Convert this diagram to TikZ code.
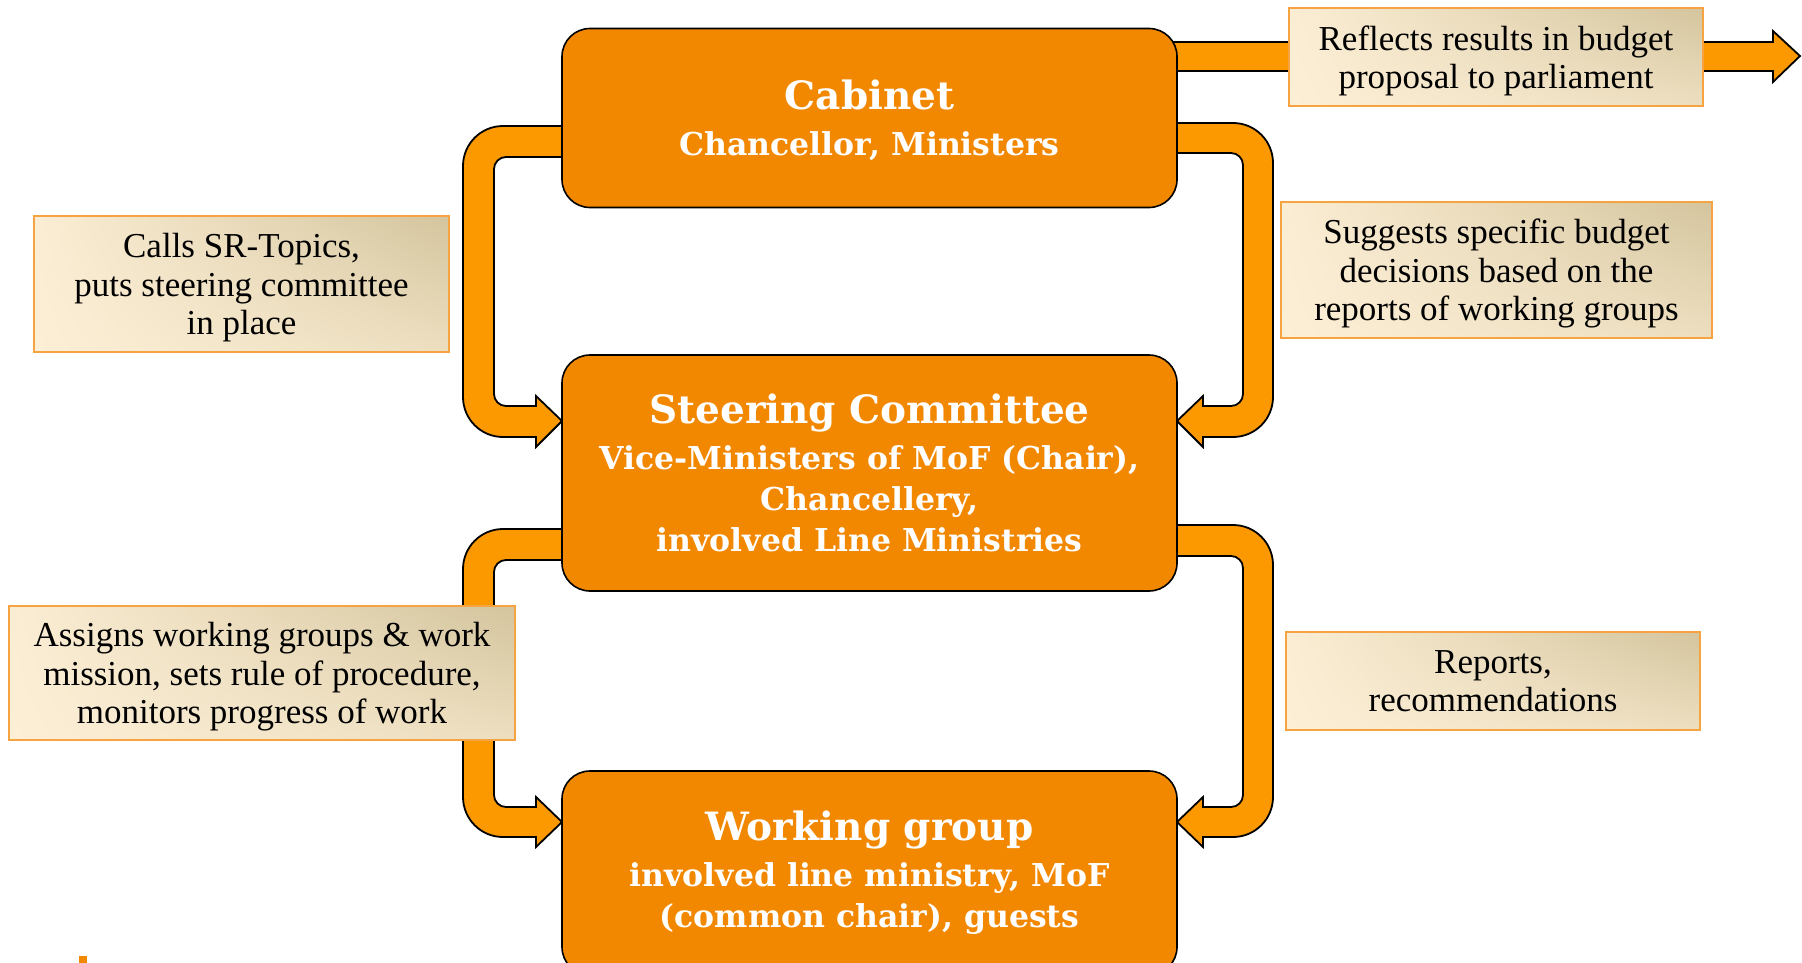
\documentclass[tikz,border=0pt]{standalone}
\usepackage{fontspec}
\setmainfont{Liberation Serif}
\newfontfamily\boxfont{DejaVu Serif}
\usetikzlibrary{shadings}

\definecolor{boxorange}{RGB}{242,135,0}
\definecolor{arroworange}{RGB}{252,153,0}
\definecolor{notecream}{RGB}{253,239,214}
\definecolor{notetan}{RGB}{212,197,158}
\definecolor{noteedge}{RGB}{246,164,66}

\begin{document}
\begin{tikzpicture}[x=1pt, y=-1pt,
    main box/.style={rectangle, draw=black, line width=1.6pt, fill=boxorange, rounded corners=28pt, minimum width=615pt, inner sep=0pt, text=white, align=center, font=\boxfont\bfseries\fontsize{31.5}{41}\selectfont},
    note/.style={rectangle, draw=noteedge, line width=1.5pt, inner sep=0pt, align=center, text=black, text depth=0pt, upper left=notecream!96!notetan, lower left=notecream, upper right=notetan, lower right=notecream!60!notetan, font=\fontsize{35}{38.5}\selectfont},
    block arrow/.style={draw=black, line width=1.8pt, fill=arroworange, line join=miter}]

    \useasboundingbox (0,0) rectangle (1802,963);
    \clip (0,0) rectangle (1802,963);

    % fleches
    \draw[block arrow] (1170,42) -- (1773,42) -- (1773,31) -- (1800,56) -- (1773,82) -- (1773,71) -- (1170,71) -- cycle;

    \draw[block arrow] (570,126) [rounded corners=40pt] -- (463,126) -- (463,437) [sharp corners] -- (536,437) -- (536,447) -- (562,421) -- (536,396) -- (536,406) [rounded corners=12pt] -- (494,406) -- (494,157) [sharp corners] -- (570,157) -- cycle;
    \draw[block arrow] (1170,123) [rounded corners=40pt] -- (1273,123) -- (1273,437) [sharp corners] -- (1203,437) -- (1203,447) -- (1177,421) -- (1203,396) -- (1203,406) [rounded corners=12pt] -- (1243,406) -- (1243,153) [sharp corners] -- (1170,153) -- cycle;

    \draw[block arrow] (570,529) [rounded corners=40pt] -- (463,529) -- (463,837) [sharp corners] -- (536,837) -- (536,847) -- (562,822) -- (536,797) -- (536,807) [rounded corners=12pt] -- (494,807) -- (494,560) [sharp corners] -- (570,560) -- cycle;
    \draw[block arrow] (1170,525) [rounded corners=40pt] -- (1273,525) -- (1273,837) [sharp corners] -- (1203,837) -- (1203,847) -- (1177,822) -- (1203,797) -- (1203,807) [rounded corners=12pt] -- (1243,807) -- (1243,556) [sharp corners] -- (1170,556) -- cycle;

    % les trois instances
    \node[main box, minimum height=179pt, text depth=0pt] (cabinet) at (869.5,118) {{\fontsize{39}{41}\selectfont Cabinet}\\[5pt] Chancellor, Ministers};
    \node[main box, minimum height=236pt] (steering) at (869.5,473) {{\fontsize{39}{41}\selectfont Steering Committee}\\[5pt] Vice-Ministers of MoF (Chair),\\ Chancellery,\\ involved Line Ministries};
    \node[main box, minimum height=204pt] (working) at (869.5,873) {{\fontsize{39}{41}\selectfont Working group}\\[5pt] involved line ministry, MoF\\ (common chair), guests};

    % commentaires
    \node[note, minimum width=414pt, minimum height=98pt] (reflects) at (1496,57) {Reflects results in budget\\ proposal to parliament};
    \node[note, minimum width=415pt, minimum height=136pt] (calls) at (241.5,284) {Calls SR-Topics,\\ puts steering committee\\ in place};
    \node[note, minimum width=431pt, minimum height=136pt] (suggests) at (1496.5,270) {Suggests specific budget\\ decisions based on the\\ reports of working groups};
    \node[note, minimum width=506pt, minimum height=134pt] (assigns) at (262,673) {Assigns working groups \& work\\ mission, sets rule of procedure,\\ monitors progress of work};
    \node[note, minimum width=414pt, minimum height=98pt] (reports) at (1493,681) {Reports,\\ recommendations};

    \fill[boxorange] (79,956) rectangle (87,963);
\end{tikzpicture}
\end{document}
